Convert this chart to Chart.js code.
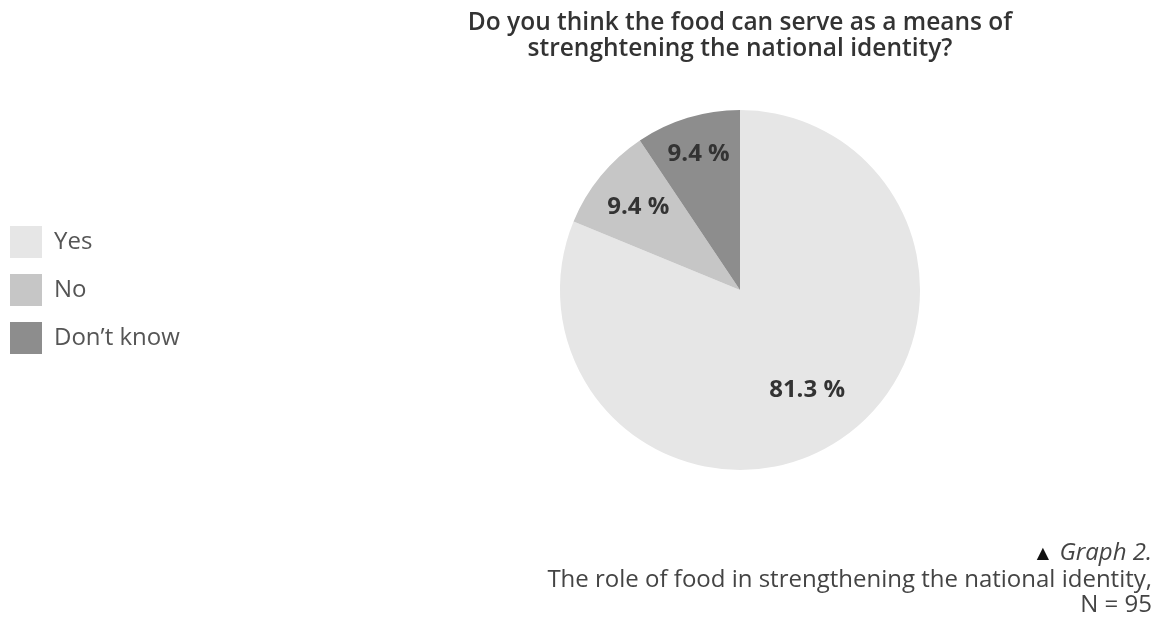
<!DOCTYPE html>
<html>
<head>
<meta charset="utf-8">
<script src="https://cdn.jsdelivr.net/npm/chart.js@4.4.0/dist/chart.umd.min.js"></script>
<style>
  html, body { margin: 0; padding: 0; background: #fff; }
  #wrap { position: relative; width: 1166px; height: 629px; }
  #caption {
    position: absolute; right: 14px; top: 538px;
    text-align: right; font-family: "Open Sans", sans-serif;
    font-size: 24px; line-height: 25px; color: #444;
  }
  #caption .tri { font-size: 21px; color: #111; }
</style>
</head>
<body>
<div id="wrap">
  <canvas id="foodChart" width="1166" height="629"></canvas>
  <div id="caption"><span class="tri">&#9650;</span> <i>Graph 2.</i><br>The role of food in strengthening the national identity,<br>N = 95</div>
</div>
<script>
// answers and their shares (%)
const categories = ['Yes', 'No', 'Don\u2019t know'];
const shares = [81.3, 9.4, 9.4];
const titleLines = ['Do you think the food can serve as a means of', 'strenghtening the national identity?'];

const sliceColors = ['#e6e6e6', '#c6c6c6', '#8d8d8d'];
const labelRadius = [0.67, 0.73, 0.79];

// widen the left legend box so the pie sits right of centre
const legendWidth = {
    id: 'legendWidth',
    beforeLayout(chart) {
        const legend = chart.legend;
        if (legend && !legend._patched) {
            const fit = legend.fit;
            legend.fit = function() {
                fit.call(this);
                this.width = 320;
            };
            legend._patched = true;
        }
    }
};

// percentage labels inside the slices
const sliceLabels = {
    id: 'sliceLabels',
    afterDatasetsDraw(chart) {
        const ctx = chart.ctx;
        const meta = chart.getDatasetMeta(0);
        ctx.save();
        ctx.font = 'bold 24px "Open Sans", sans-serif';
        ctx.fillStyle = '#333';
        ctx.textAlign = 'center';
        ctx.textBaseline = 'middle';
        meta.data.forEach(function(arc, i) {
            const p = arc.getProps(['x', 'y', 'startAngle', 'endAngle', 'outerRadius'], true);
            const mid = (p.startAngle + p.endAngle) / 2;
            const r = p.outerRadius * labelRadius[i];
            ctx.fillText(shares[i].toFixed(1) + ' %', p.x + Math.cos(mid) * r, p.y + Math.sin(mid) * r);
        });
        ctx.restore();
    }
};

new Chart(document.getElementById('foodChart').getContext('2d'), {
    type: 'pie',
    data: {
        labels: categories,
        datasets: [{
            data: shares,
            backgroundColor: sliceColors,
            borderWidth: 0
        }]
    },
    options: {
        responsive: false,
        animation: false,
        events: [],
        layout: {
            padding: { left: -6, right: 0, top: 0, bottom: 159 }
        },
        plugins: {
            title: {
                display: true,
                text: titleLines,
                fullSize: false,
                color: '#333',
                font: { family: '"Open Sans", sans-serif', size: 24.5, weight: '600', lineHeight: 1.06 },
                padding: { top: 10, bottom: 48 }
            },
            legend: {
                position: 'left',
                align: 'center',
                fullSize: false,
                labels: {
                    boxWidth: 32,
                    boxHeight: 32,
                    padding: 16,
                    color: '#555',
                    font: { family: '"Open Sans", sans-serif', size: 24 }
                }
            },
            tooltip: { enabled: false }
        }
    },
    plugins: [legendWidth, sliceLabels]
});
</script>
</body>
</html>
